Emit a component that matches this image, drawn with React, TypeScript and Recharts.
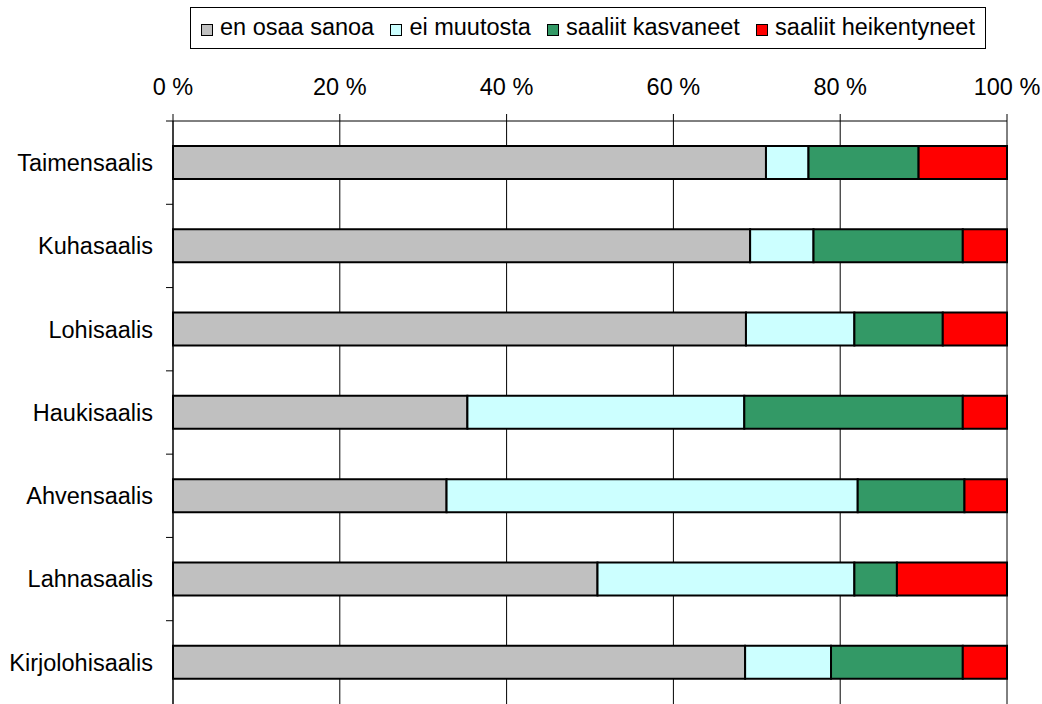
import React from "react"
import { BarChart, Bar, XAxis, YAxis, CartesianGrid, Legend } from "recharts"

const categories = [
  "Taimensaalis",
  "Kuhasaalis",
  "Lohisaalis",
  "Haukisaalis",
  "Ahvensaalis",
  "Lahnasaalis",
  "Kirjolohisaalis",
]

const enOsaaSanoa = [71.1, 69.2, 68.7, 35.3, 32.8, 50.9, 68.6]
const eiMuutosta = [5.1, 7.6, 13.0, 33.2, 49.3, 30.8, 10.3]
const saaliitKasvaneet = [13.2, 17.9, 10.6, 26.2, 12.8, 5.1, 15.8]
const saaliitHeikentyneet = [10.6, 5.3, 7.7, 5.3, 5.1, 13.2, 5.3]

const seriesNames = ["en osaa sanoa", "ei muutosta", "saaliit kasvaneet", "saaliit heikentyneet"]
const seriesKeys = ["a", "b", "c", "d"]
const seriesColors = ["#C0C0C0", "#CCFFFF", "#339966", "#FF0000"]

const xTicks = [0, 0.2, 0.4, 0.6, 0.8, 1]

const data = categories.map((name, i) => ({
  name,
  a: enOsaaSanoa[i],
  b: eiMuutosta[i],
  c: saaliitKasvaneet[i],
  d: saaliitHeikentyneet[i],
}))

const FONT = '"Liberation Sans", Arial, sans-serif'
const FONT_SIZE = 23.5

// category label plus a small tick mark at the band edge (like Excel)
function CategoryTick(props: any) {
  const { x, y, payload } = props
  const half = payload && payload.offset != null ? payload.offset : 0
  return (
    <g>
      <line x1={x + 13} x2={x + 20} y1={y - half} y2={y - half} stroke="#000" strokeWidth={1} />
      <text
        x={x}
        y={y}
        dy="0.355em"
        textAnchor="end"
        fill="#000"
        style={{ fontFamily: FONT, fontSize: FONT_SIZE }}
      >
        {payload.value}
      </text>
    </g>
  )
}

function LegendBox() {
  return (
    <div
      style={{
        boxSizing: "border-box",
        width: 796,
        height: 42,
        border: "1px solid #000",
        background: "#fff",
        display: "flex",
        alignItems: "center",
        justifyContent: "space-between",
        padding: "0 10px",
        fontFamily: FONT,
        fontSize: FONT_SIZE,
        color: "#000",
        lineHeight: 1,
      }}
    >
      {seriesNames.map((n, i) => (
        <span key={n} style={{ display: "flex", alignItems: "center", whiteSpace: "nowrap" }}>
          <span
            style={{
              display: "inline-block",
              boxSizing: "border-box",
              width: 12,
              height: 12,
              border: "1px solid #000",
              background: seriesColors[i],
              marginRight: 7,
              marginTop: 3,
            }}
          />
          {n}
        </span>
      ))}
    </div>
  )
}

export default function App() {
  return (
    <div style={{ position: "absolute", left: 0, top: 0, width: 1042, height: 704, background: "#fff" }}>
      <BarChart
        width={1042}
        height={704}
        data={data}
        layout="vertical"
        stackOffset="expand"
        barCategoryGap="30%"
        margin={{ top: 1, right: 35, bottom: 0, left: 0 }}
      >
        <CartesianGrid horizontal={false} stroke="#000" strokeWidth={1} />
        <XAxis
          type="number"
          orientation="top"
          domain={[0, 1]}
          ticks={xTicks}
          interval={0}
          height={120}
          tickSize={7}
          tickMargin={19}
          axisLine={{ stroke: "#000" }}
          tickLine={{ stroke: "#000" }}
          tickFormatter={(v: number) => `${Math.round(v * 100)} %`}
          tick={{ fill: "#000", fontSize: FONT_SIZE, fontFamily: FONT }}
        />
        <YAxis
          type="category"
          dataKey="name"
          width={173}
          interval={0}
          tickSize={7}
          tickMargin={13}
          tickLine={false}
          axisLine={{ stroke: "#000" }}
          tick={<CategoryTick />}
        />
        <Legend
          verticalAlign="middle"
          align="center"
          layout="horizontal"
          wrapperStyle={{ top: 7, left: 190, width: 796 }}
          content={() => <LegendBox />}
        />
        {seriesKeys.map((k, i) => (
          <Bar
            key={k}
            dataKey={k}
            name={seriesNames[i]}
            stackId="s"
            fill={seriesColors[i]}
            stroke="#000"
            strokeWidth={2}
            isAnimationActive={false}
          />
        ))}
      </BarChart>
    </div>
  )
}
